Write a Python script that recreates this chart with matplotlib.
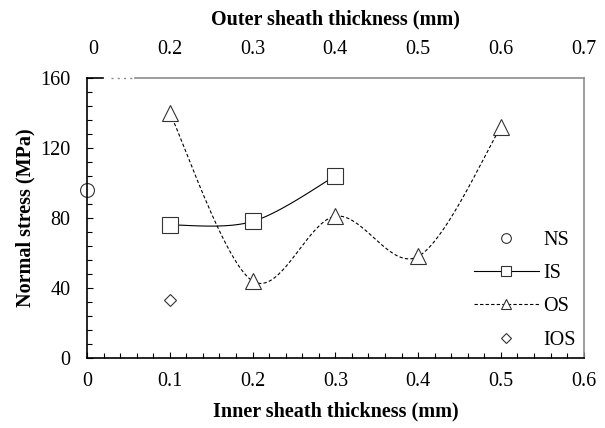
import numpy as np
import matplotlib
matplotlib.use('Agg')
import matplotlib.pyplot as plt
from matplotlib.lines import Line2D
from matplotlib.ticker import MultipleLocator

plt.rcParams['font.family'] = ['Liberation Serif', 'DejaVu Serif']
plt.rcParams['font.size'] = 14.5

# data
ns_x = [0.0]
ns_y = [96]
is_x = [0.1, 0.2, 0.3]
is_y = [76, 78, 104]
os_x = [0.1, 0.2, 0.3, 0.4, 0.5]
os_y = [140, 44, 81, 58, 132]
ios_x = [0.1]
ios_y = [33]

bottom_ticks = [0, 0.1, 0.2, 0.3, 0.4, 0.5, 0.6]
top_labels = ['0', '0.2', '0.3', '0.4', '0.5', '0.6', '0.7']
y_ticks = [0, 40, 80, 120, 160]


# excel-like smoothed line (catmull-rom bezier)
def smooth(xs, ys, n=40):
    p = np.column_stack([xs, ys]).astype(float)
    p = np.vstack([p[0], p, p[-1]])
    out = []
    t = np.linspace(0, 1, n)[:, None]
    for i in range(1, len(p) - 2):
        a, b = p[i], p[i + 1]
        c1 = a + (p[i + 1] - p[i - 1]) / 6
        c2 = b - (p[i + 2] - p[i]) / 6
        seg = (1 - t) ** 3 * a + 3 * (1 - t) ** 2 * t * c1 + 3 * (1 - t) * t ** 2 * c2 + t ** 3 * b
        out.append(seg)
    out = np.vstack(out)
    return out[:, 0], out[:, 1]


fig = plt.figure(figsize=(6.05, 4.28), dpi=100)
ax = fig.add_axes([0.1438, 0.1636, 0.821, 0.6542])

ec = '#333333'
sx, sy = smooth(is_x, is_y)
ax.plot(sx, sy, color='black', lw=0.8)
sx, sy = smooth(os_x, os_y)
ax.plot(sx, sy, color='black', lw=0.8, ls=(0, (3, 2)))

ax.plot(ns_x, ns_y, ls='none', marker='o', ms=10, mfc='white', mec=ec, mew=0.8, clip_on=False)
ax.plot(is_x, is_y, ls='none', marker='s', ms=11, mfc='white', mec=ec, mew=0.8)
ax.plot(os_x, os_y, ls='none', marker='^', ms=11.5, mfc='white', mec=ec, mew=0.8)
ax.plot(ios_x, ios_y, ls='none', marker='D', ms=6.5, mfc='white', mec=ec, mew=0.8)

ax.set_xlim(0, 0.6)
ax.set_ylim(0, 160)
ax.set_xticks(bottom_ticks)
ax.set_xticklabels(['0'] + [str(v) for v in bottom_ticks[1:]])
ax.set_yticks(y_ticks)
ax.xaxis.set_minor_locator(MultipleLocator(0.02))
ax.yaxis.set_minor_locator(MultipleLocator(8))
ax.tick_params(which='both', direction='in', top=False, right=False, labelsize=14.5)
ax.tick_params(which='major', length=4.5, width=0.8)
ax.tick_params(which='minor', length=3.5, width=0.8)
ax.tick_params(axis='x', pad=10)
ax.tick_params(axis='y', pad=12)

for s in ['left', 'bottom']:
    ax.spines[s].set_linewidth(1.2)
ax.spines['right'].set_color('#8c8c8c')
ax.spines['right'].set_linewidth(1.2)
ax.spines['top'].set_visible(False)

# top border with a break
tr = ax.get_xaxis_transform()
ax.add_line(Line2D([0, 0.019], [1, 1], transform=tr, color='black', lw=1.2, clip_on=False))
ax.add_line(Line2D([0.029, 0.058], [1, 1], transform=tr, color='#8c8c8c', lw=1.0,
                   ls=(0, (1.5, 3)), clip_on=False))
ax.add_line(Line2D([0.058, 0.6], [1, 1], transform=tr, color='#8c8c8c', lw=1.2, clip_on=False))

ax.set_xlabel('Inner sheath thickness (mm)', fontweight='bold', fontsize=14.5, labelpad=8)
ax.set_ylabel('Normal stress (MPa)', fontweight='bold', fontsize=14.5, labelpad=3)

# top axis (outer sheath)
ax2 = ax.twiny()
ax2.set_xlim(0.1, 0.7)
top_pos = [0.107, 0.2, 0.3, 0.4, 0.5, 0.6, 0.7]
ax2.set_xticks(top_pos)
ax2.set_xticklabels(top_labels)
ax2.tick_params(axis='x', length=0, labelsize=14.5, pad=14)
for s in ax2.spines.values():
    s.set_visible(False)
ax2.set_xlabel('Outer sheath thickness (mm)', fontweight='bold', fontsize=14.5, labelpad=11)

handles = [
    Line2D([], [], ls='none', marker='o', ms=7, mfc='white', mec=ec, mew=0.8),
    Line2D([], [], color='black', lw=0.8, marker='s', ms=7, mfc='white', mec=ec, mew=0.8),
    Line2D([], [], color='black', lw=0.8, ls=(0, (3, 2)), marker='^', ms=7.5, mfc='white', mec=ec, mew=0.8),
    Line2D([], [], ls='none', marker='D', ms=5, mfc='white', mec=ec, mew=0.8),
]
ax.legend(handles, ['NS', 'IS', 'OS', 'IOS'], loc='center left', bbox_to_anchor=(0.759, 0.242),
          frameon=False, borderpad=0, handlelength=3.2, handletextpad=0.25,
          labelspacing=0.7, fontsize=14.5)

fig.savefig('out.png', dpi=100)
